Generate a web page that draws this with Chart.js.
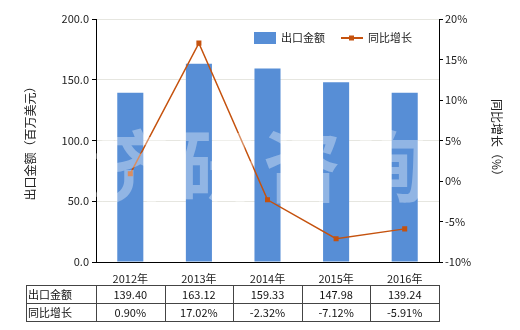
<!DOCTYPE html>
<html>
<head>
<meta charset="utf-8">
<script src="https://cdn.jsdelivr.net/npm/chart.js@4"></script>
<style>
    body { margin: 0; background: #fff; }
    #wrap { width: 520px; height: 330px; }
</style>
</head>
<body>
<div id="wrap"><canvas id="exportChart" width="520" height="330"></canvas></div>
<script>
const years = ["2012年", "2013年", "2014年", "2015年", "2016年"];
const exportValues = [139.40, 163.12, 159.33, 147.98, 139.24];
const growthValues = [0.90, 17.02, -2.32, -7.12, -5.91];
const exportLabels = ["139.40", "163.12", "159.33", "147.98", "139.24"];
const growthLabels = ["0.90%", "17.02%", "-2.32%", "-7.12%", "-5.91%"];

const barColor = "#578ed6";
const lineColor = "#c5520e";
const font = "'Noto Sans CJK SC', 'Noto Sans', sans-serif";

const extras = {
    id: "extras",
    afterDraw(chart) {
        const ctx = chart.ctx;
        const x = chart.scales.x;
        const area = chart.chartArea;

        // watermark
        ctx.save();
        ctx.fillStyle = "rgba(255,255,255,0.35)";
        ctx.font = "bold 78px " + font;
        ctx.textAlign = "center";
        ctx.textBaseline = "middle";
        const marks = ["济", "研", "咨", "询"];
        marks.forEach((m, i) => {
            ctx.fillText(m, 130 + i * 86, 166);
        });
        ctx.restore();

        // legend
        ctx.save();
        ctx.font = "11px " + font;
        ctx.textBaseline = "middle";
        ctx.fillStyle = barColor;
        ctx.fillRect(254, 32, 22, 12);
        ctx.fillStyle = "#222";
        ctx.fillText("出口金额", 281, 38);
        ctx.strokeStyle = lineColor;
        ctx.lineWidth = 2;
        ctx.beginPath();
        ctx.moveTo(341, 38);
        ctx.lineTo(363, 38);
        ctx.stroke();
        ctx.fillStyle = lineColor;
        ctx.fillRect(349, 35.5, 5, 5);
        ctx.fillStyle = "#222";
        ctx.fillText("同比增长", 368, 38);
        ctx.restore();

        // data table
        const top = 285, mid = 303, bottom = 321;
        const tableLeft = 26;
        ctx.save();
        ctx.strokeStyle = "#444";
        ctx.lineWidth = 1;
        ctx.beginPath();
        [top, mid, bottom].forEach(y => {
            ctx.moveTo(tableLeft, y + 0.5);
            ctx.lineTo(area.right, y + 0.5);
        });
        const edges = [tableLeft, area.left];
        years.forEach((y, i) => {
            edges.push(x.getPixelForValue(i) + (x.getPixelForValue(1) - x.getPixelForValue(0)) / 2);
        });
        edges.forEach(e => {
            const ex = Math.round(e) + 0.5;
            ctx.moveTo(ex, top);
            ctx.lineTo(ex, bottom + 1);
        });
        ctx.stroke();

        ctx.fillStyle = "#111";
        ctx.font = "11px " + font;
        ctx.textBaseline = "middle";
        ctx.textAlign = "left";
        ctx.fillText("出口金额", tableLeft + 2, (top + mid) / 2 + 1);
        ctx.fillText("同比增长", tableLeft + 2, (mid + bottom) / 2 + 1);
        ctx.textAlign = "center";
        years.forEach((y, i) => {
            const cx = x.getPixelForValue(i);
            ctx.fillText(exportLabels[i], cx, (top + mid) / 2 + 1);
            ctx.fillText(growthLabels[i], cx, (mid + bottom) / 2 + 1);
        });
        ctx.restore();
    }
};

new Chart(document.getElementById("exportChart"), {
    data: {
        labels: years,
        datasets: [
            {
                type: "line",
                label: "同比增长",
                data: growthValues,
                yAxisID: "y1",
                borderColor: lineColor,
                backgroundColor: lineColor,
                borderWidth: 1.5,
                pointStyle: "rect",
                pointRadius: 2.5,
                tension: 0,
                order: 0
            },
            {
                type: "bar",
                label: "出口金额",
                data: exportValues,
                yAxisID: "y",
                backgroundColor: barColor,
                barPercentage: 0.38,
                categoryPercentage: 1,
                order: 1
            }
        ]
    },
    options: {
        responsive: false,
        animation: false,
        layout: {
            padding: { left: 0, right: 0, top: 19, bottom: 0 }
        },
        plugins: {
            legend: { display: false },
            tooltip: { enabled: false }
        },
        scales: {
            x: {
                grid: { display: false },
                border: { color: "#000" },
                ticks: { color: "#222", font: { family: font, size: 11 }, padding: 2 },
                afterFit(scale) { scale.height = 68; }
            },
            y: {
                position: "left",
                min: 0,
                max: 200,
                ticks: {
                    stepSize: 50,
                    color: "#222",
                    font: { family: font, size: 11 },
                    padding: 3,
                    callback: v => v.toFixed(1)
                },
                grid: { color: "#e6e6e0", tickColor: "#000", tickLength: 4 },
                border: { color: "#000" },
                title: {
                    display: true,
                    text: "出口金额（百万美元）",
                    color: "#222",
                    font: { family: font, size: 12 },
                    padding: { top: 23, bottom: 0 }
                },
                afterFit(scale) { scale.width = 96; }
            },
            y1: {
                position: "right",
                min: -10,
                max: 20,
                ticks: {
                    stepSize: 5,
                    color: "#222",
                    font: { family: font, size: 11 },
                    padding: 2,
                    callback: v => v + "%"
                },
                grid: { drawOnChartArea: false, tickColor: "#000", tickLength: 4 },
                border: { color: "#000" },
                title: {
                    display: true,
                    text: "同比增长（%）",
                    color: "#222",
                    font: { family: font, size: 12 },
                    padding: { top: 16, bottom: 0 }
                },
                afterFit(scale) { scale.width = 81; }
            }
        }
    },
    plugins: [extras]
});
</script>
</body>
</html>
